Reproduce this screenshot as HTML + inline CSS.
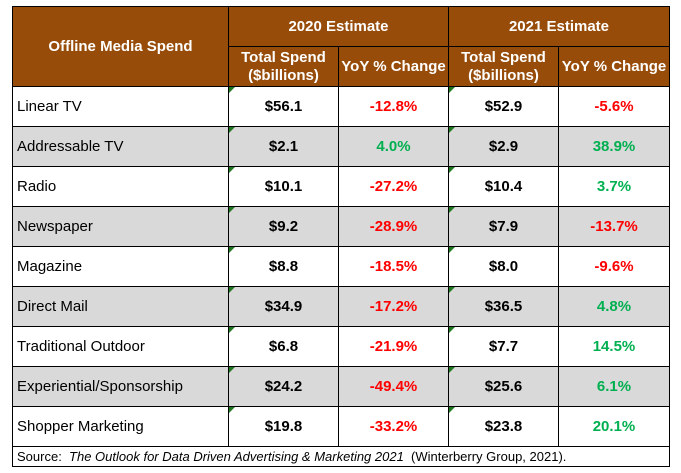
<!DOCTYPE html>
<html><head><meta charset="utf-8"><style>
body{margin:0;width:681px;height:473px;background:#fff;position:relative;overflow:hidden;font-family:"Liberation Sans",Arial,sans-serif;}
.c{position:absolute;box-sizing:border-box;border:1px solid #000;display:flex;align-items:center;justify-content:center;font-size:15px;text-align:center;line-height:18px;}
.h{background:#974C0A;color:#fff;font-weight:bold;border-color:#000;}
.l{justify-content:flex-start;padding-left:4px;}
.b{font-weight:bold;}
.tri{position:absolute;left:0;top:0;width:0;height:0;border-top:6px solid #1F7A1F;border-right:6px solid transparent;}
</style></head><body>
<div id="t"></div>
<script>
const categories=["Linear TV","Addressable TV","Radio","Newspaper","Magazine","Direct Mail","Traditional Outdoor","Experiential/Sponsorship","Shopper Marketing"];
const spend2020=[56.1,2.1,10.1,9.2,8.8,34.9,6.8,24.2,19.8];
const yoy2020=[-12.8,4.0,-27.2,-28.9,-18.5,-17.2,-21.9,-49.4,-33.2];
const spend2021=[52.9,2.9,10.4,7.9,8.0,36.5,7.7,25.6,23.8];
const yoy2021=[-5.6,38.9,3.7,-13.7,-9.6,4.8,14.5,6.1,20.1];
const X=[12,228,338,448,558,669];
const t=document.getElementById('t');
function cell(x,y,w,h,html,cls,name){
  const d=document.createElement('div');
  d.className='c '+(cls||'');
  d.style.left=x+'px';d.style.top=y+'px';d.style.width=(w+1)+'px';d.style.height=(h+1)+'px';
  d.innerHTML=html;
  
  
  t.appendChild(d);return d;
}
cell(X[0],6,X[1]-X[0],80,'Offline Media Spend','h','header-offline-media-spend');
cell(X[1],6,X[3]-X[1],40,'2020 Estimate','h','header-2020-estimate');
cell(X[3],6,X[5]-X[3],40,'2021 Estimate','h','header-2021-estimate');
cell(X[1],46,110,40,'Total Spend<br>($billions)','h','header-2020-total-spend');
cell(X[2],46,110,40,'YoY % Change','h','header-2020-yoy');
cell(X[3],46,110,40,'Total Spend<br>($billions)','h','header-2021-total-spend');
cell(X[4],46,X[5]-X[4],40,'YoY % Change','h','header-2021-yoy');
function pct(v){return (v<0?'-':'')+Math.abs(v).toFixed(1)+'%';}
categories.forEach((c,i)=>{
  const y=86+i*40, bg=i%2?'#D9D9D9':'#fff';
  const key=c.toLowerCase().replace(/[^a-z]+/g,'-');
  const a=cell(X[0],y,X[1]-X[0],40,c,'l',key+'-label');a.style.background=bg;
  const s1=cell(X[1],y,110,40,'$'+spend2020[i].toFixed(1)+'<span class="tri"></span>','b',key+'-spend-2020');s1.style.background=bg;
  const y1=cell(X[2],y,110,40,pct(yoy2020[i]),'b',key+'-yoy-2020');y1.style.background=bg;y1.style.color=yoy2020[i]<0?'#FF0000':'#00B050';
  const s2=cell(X[3],y,110,40,'$'+spend2021[i].toFixed(1)+'<span class="tri"></span>','b',key+'-spend-2021');s2.style.background=bg;
  const y2=cell(X[4],y,X[5]-X[4],40,pct(yoy2021[i]),'b',key+'-yoy-2021');y2.style.background=bg;y2.style.color=yoy2021[i]<0?'#FF0000':'#00B050';
});
const src=cell(X[0],446,X[5]-X[0],20,'Source:&nbsp; <i>&nbsp;The Outlook for Data Driven Advertising &amp; Marketing 2021</i>&nbsp; (Winterberry Group, 2021).','l','source-note');
src.style.fontSize='13px';
</script>
</body></html>
